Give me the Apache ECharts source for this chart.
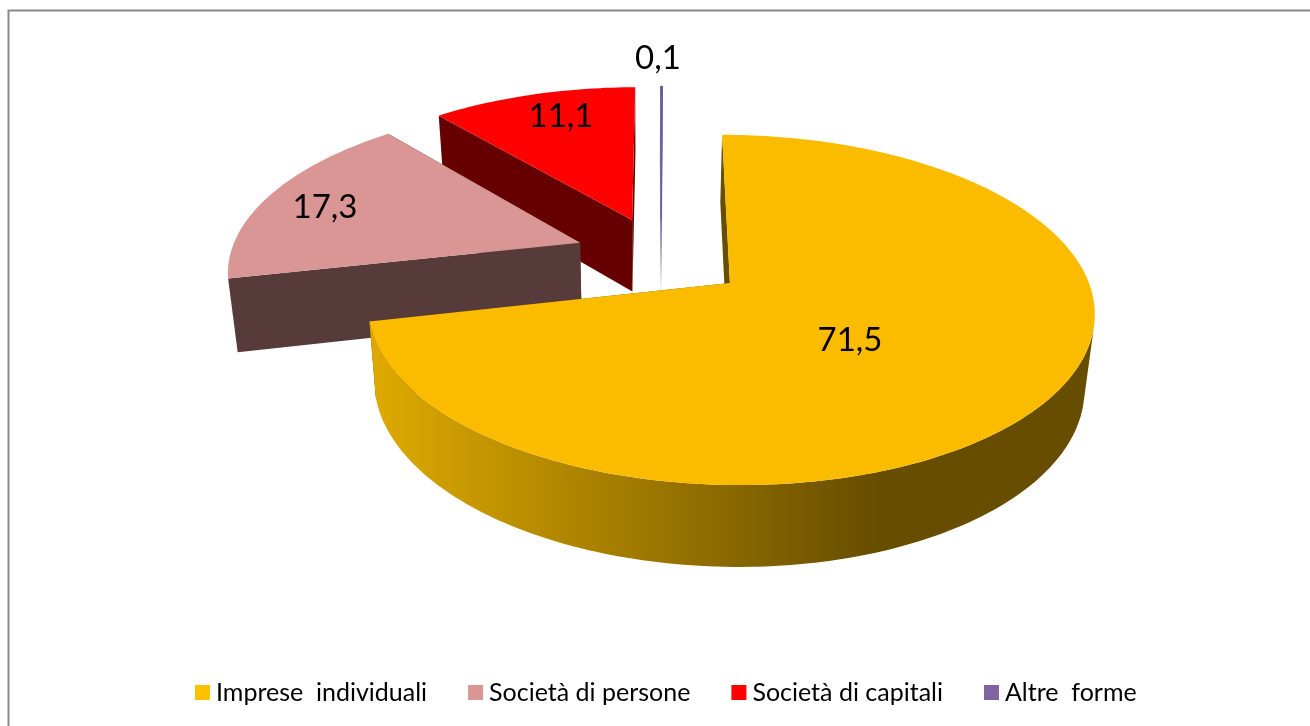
<!DOCTYPE html>
<html>
<head>
<meta charset="utf-8">
<title>Forme giuridiche</title>
<style>
    html, body { margin: 0; padding: 0; background: #fff; }
    #chart { width: 1310px; height: 726px; }
</style>
<script src="https://cdn.jsdelivr.net/npm/echarts@6/dist/echarts.min.js"></script>
</head>
<body>
<div id="chart"></div>
<script>
const categories = ['Imprese  individuali', 'Società di persone', 'Società di capitali', 'Altre  forme'];
const values = [71.5, 17.3, 11.1, 0.1];
const labels = ['71,5', '17,3', '11,1', '0,1'];

// how far each slice is pulled out, in pie radii on the pie's own plane
const EXPLODE = [[-0.003, 0], [-0.43, 0.245], [-0.282, 0.39], [-0.196, 0.4]];
const TOP_COLORS = ['#fbbc00', '#d99694', '#ff0000', '#6a5a9e'];
const LEGEND_COLORS = ['#ffc000', '#d99694', '#ff0000', '#8064a2'];
const LABEL_POS = [[850, 340], [325, 207], [561, 116], [658, 58]];

// perspective of the pie plane on screen
const ORIGIN_X = 731;
const ORIGIN_Y = 283;
const SCALE_X = 359;
const SCALE_Y = 171;
const SKEW_X = -9.2;
const PERSPECTIVE = 0.154;
const DEPTH = 74;
const DEPTH_FALLOFF = 0.6;
const DEPTH_VANISH_X = 645;
const DEPTH_SHRINK = 0.023;

function wallFills() {
    const gold = {
        type: 'linear', x: 377, y: 0, x2: 880, y2: 0, global: true,
        colorStops: [{offset: 0, color: '#dda900'}, {offset: 1, color: '#664d00'}]
    };
    const fade = {
        type: 'linear', x: 0, y: 217, x2: 0, y2: 285, global: true,
        colorStops: [{offset: 0, color: '#6a5a9e'}, {offset: 0.5, color: '#a5a0b8'}, {offset: 1, color: '#f0f0f0'}]
    };
    return [
        {arc: gold, edge: '#664d00'},
        {arc: '#573a3a', edge: '#573a3a'},
        {arc: '#660000', edge: '#660000'},
        {arc: fade, edge: fade}
    ];
}

function project(u, v) {
    const w = 1 + PERSPECTIVE * v;
    return {
        x: ORIGIN_X + (SCALE_X * u + SKEW_X * v) / w,
        y: ORIGIN_Y - SCALE_Y * v / w,
        w: w
    };
}

function topPoint(u, v) {
    const p = project(u, v);
    return [p.x, p.y];
}

function bottomPoint(u, v) {
    const p = project(u, v);
    return [p.x + DEPTH_SHRINK * (DEPTH_VANISH_X - p.x), p.y + DEPTH / Math.pow(p.w, DEPTH_FALLOFF)];
}

// only the stretches of rim whose wall faces the viewer, one polygon each
function frontWalls(topRim, bottomRim) {
    const runs = [];
    let from = -1;
    for (let i = 0; i < topRim.length - 1; i++) {
        const dx = topRim[i + 1][0] - topRim[i][0];
        const dy = topRim[i + 1][1] - topRim[i][1];
        const hx = bottomRim[i][0] - topRim[i][0];
        const hy = bottomRim[i][1] - topRim[i][1];
        const front = dx * hy - dy * hx < 0;
        if (front && from < 0) {
            from = i;
        }
        if (!front && from >= 0) {
            runs.push([from, i]);
            from = -1;
        }
    }
    if (from >= 0) {
        runs.push([from, topRim.length - 1]);
    }
    return runs.map(([a, b]) =>
        topRim.slice(a, b + 1).concat(bottomRim.slice(a, b + 1).reverse()));
}

const TOTAL = values.reduce((a, b) => a + b, 0);
const FILLS = wallFills();

function renderSlice(index, value) {
    const before = values.slice(0, index).reduce((a, b) => a + b, 0);
    const start = before / TOTAL * Math.PI * 2;
    const end = (before + value) / TOTAL * Math.PI * 2;
    const [u0, v0] = EXPLODE[index];
    const steps = Math.max(2, Math.ceil((end - start) / 0.02));

    const rim = [];
    for (let i = 0; i <= steps; i++) {
        const a = start + (end - start) * i / steps;
        rim.push([u0 + Math.sin(a), v0 + Math.cos(a)]);
    }
    const topRim = rim.map(p => topPoint(p[0], p[1]));
    const bottomRim = rim.map(p => bottomPoint(p[0], p[1]));
    const apexTop = topPoint(u0, v0);
    const apexBottom = bottomPoint(u0, v0);
    const fill = FILLS[index];
    const thin = index === 3;

    const polygon = (points, color) => ({
        type: 'polygon',
        shape: {points: points},
        style: thin ? {fill: color, stroke: color, lineWidth: 0.6} : {fill: color}
    });

    const children = [
        polygon([topRim[0], apexTop, apexBottom, bottomRim[0]], fill.edge),
        polygon([topRim[steps], apexTop, apexBottom, bottomRim[steps]], fill.edge)
    ];
    frontWalls(topRim, bottomRim).forEach(points => {
        children.push(polygon(points, fill.arc));
    });
    children.push(polygon([apexTop].concat(topRim), TOP_COLORS[index]));
    children.push({
        type: 'text',
        z2: 10,
        style: {
            text: labels[index],
            x: LABEL_POS[index][0],
            y: LABEL_POS[index][1],
            align: 'center',
            verticalAlign: 'middle',
            fill: '#000',
            fontFamily: 'Lato',
            fontSize: 33
        }
    });
    return {type: 'group', children: children};
}

// painted back to front, so the big slice goes last
const drawOrder = [3, 2, 1, 0];

const option = {
    animation: false,
    backgroundColor: '#fff',
    legend: {
        data: categories,
        left: 195,
        top: 680,
        padding: 0,
        icon: 'rect',
        itemWidth: 15,
        itemHeight: 15,
        itemGap: 41,
        selectedMode: false,
        textStyle: {color: '#000', fontFamily: 'Lato', fontSize: 25, padding: [0, 0, 0, 1]}
    },
    graphic: [
        {
            type: 'polyline',
            silent: true,
            shape: {points: [[8.5, 726], [8.5, 10.5], [1310, 10.5]]},
            style: {fill: null, stroke: '#8a8a8a', lineWidth: 2}
        }
    ],
    series: drawOrder.map(index => ({
        type: 'custom',
        name: categories[index],
        coordinateSystem: 'none',
        silent: true,
        itemStyle: {color: LEGEND_COLORS[index]},
        data: [[values[index]]],
        renderItem: (params, api) => renderSlice(index, api.value(0))
    }))
};

const chart = echarts.init(document.getElementById('chart'), null, {renderer: 'canvas'});
chart.setOption(option);
</script>
</body>
</html>
